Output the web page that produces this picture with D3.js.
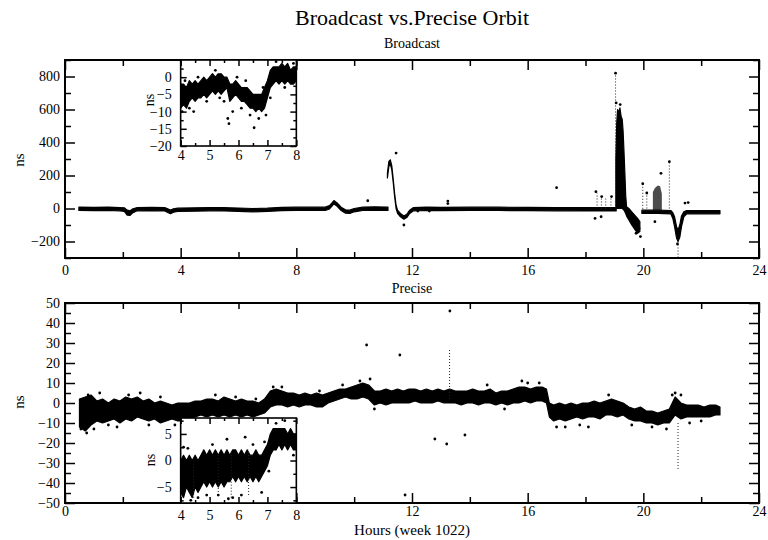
<!DOCTYPE html>
<html lang="en">
<head>
<meta charset="utf-8">
<title>Broadcast vs. Precise Orbit</title>
<script src="https://d3js.org/d3.v7.min.js"></script>
<style>
body{margin:0;background:#fff;}
svg text{font-family:"Liberation Serif","Times New Roman",serif !important;fill:#000;}
.tick line{stroke:#000;stroke-width:1.5px;}
.domain{display:none;}
</style>
</head>
<body>
<div id="main"></div>
<script>

// ---- Broadcast (top) : [hour, low, high] bands
var bcBase1 = [[0.48,-12,8],[1.0,-13,7],[1.5,-12,8],[1.9,-14,6],[2.05,-18,4],[2.15,-40,-10],[2.25,-42,-14],[2.35,-25,-2],[2.5,-14,6],[3.0,-13,7],[3.45,-15,5],[3.55,-24,-2],[3.65,-32,-10],[3.75,-22,-2],[3.9,-18,2],[4.5,-16,4],[5.0,-14,6],[5.5,-15,5],[6.0,-17,3],[6.5,-20,0],[7.0,-18,2],[7.5,-13,7],[8.0,-12,8],[8.5,-12,8],[9.0,-12,8],[9.15,-2,18],[9.3,28,48],[9.42,12,32],[9.55,-12,8],[9.7,-28,-8],[9.85,-30,-10],[10.0,-20,0],[10.3,-12,8],[10.7,-10,10],[11.17,-12,8]]
var bcBase2 = [[11.15,185,215],[11.2,255,285],[11.25,270,295],[11.3,235,260],[11.35,160,180],[11.4,70,90],[11.45,0,20],[11.5,-30,-10],[11.6,-50,-30],[11.72,-65,-45],[11.82,-55,-35],[11.92,-30,-10],[12.05,-14,6],[12.5,-12,8],[13.0,-13,7],[14.0,-12,8],[15.0,-12,8],[16.0,-13,7],[17.0,-14,6],[18.0,-15,5],[19.06,-15,5]]
var bcSpike = [[19.05,0,300],[19.08,0,520],[19.11,0,600],[19.15,0,580],[19.19,0,610],[19.23,0,560],[19.27,0,540],[19.3,-5,470],[19.33,-10,350],[19.36,-20,220],[19.39,-30,80],[19.42,-45,10],[19.5,-70,0],[19.6,-100,-20],[19.7,-125,-40],[19.8,-150,-60],[19.88,-140,-80]]
var bcBase3 = [[19.95,-30,-10],[20.5,-30,-10],[20.95,-32,-12],[21.02,-60,-25],[21.08,-110,-50],[21.15,-180,-110],[21.2,-200,-130],[21.26,-175,-100],[21.32,-110,-45],[21.4,-50,-20],[21.5,-32,-12],[22.65,-32,-12]]
var bcCluster = [[20.33,-10,100],[20.4,-10,125],[20.5,-10,140],[20.58,-10,135],[20.64,-10,90]]
var bcSticks = [[19.04,0,820],[20.9,0,284],[21.2,-200,-300],[19.98,-20,150],[18.4,0,95],[18.55,0,72],[18.7,0,60],[18.88,0,72],[20.12,0,94]]
var bcDots = [[10.47,47],[11.45,336],[11.72,-100],[12.6,-15],[13.24,45],[13.24,30],[12.2,-15],[17.0,126],[18.36,102],[18.56,72],[18.9,72],[18.33,-60],[18.54,-50],[19.04,820],[19.06,640],[19.2,630],[19.9,-170],[19.85,-120],[19.75,-150],[19.98,150],[20.12,94],[20.4,-80],[20.61,213],[20.9,284],[21.44,33],[21.55,36],[21.18,-215]]

// ---- Broadcast inset (hours 4-8)
var bcInBand = [[4.0,-9,-2],[4.1,-8,-2],[4.2,-9,-3],[4.3,-7,-1],[4.4,-6,-2],[4.5,-7,-1],[4.6,-6,-2],[4.7,-6,-1],[4.8,-5,0],[4.9,-6,-1],[5.0,-5,0],[5.1,-4,1],[5.2,-5,0],[5.3,-4,1],[5.4,-5,1],[5.5,-4,0],[5.6,-3,0],[5.7,-7,-2],[5.8,-6,-2],[5.9,-5,-1],[6.0,-6,-2],[6.1,-7,-3],[6.2,-7,-3],[6.3,-8,-3],[6.4,-9,-4],[6.5,-9,-5],[6.6,-10,-5],[6.7,-9,-5],[6.8,-10,-5],[6.9,-9,-3],[7.0,-6,-1],[7.1,-3,2],[7.2,-2,3],[7.3,-1,3],[7.4,-2,3],[7.5,-1,4],[7.6,-2,3],[7.7,-1,4],[7.8,-2,2],[7.9,-2,3],[8.0,-1,3]]
var bcInDots = [[4.05,-10],[4.15,-1],[4.3,-9],[4.45,-10],[4.6,0],[4.9,-7],[5.2,2],[5.35,-6],[5.5,-7],[5.63,-12],[5.67,-13.5],[5.8,-10],[5.95,0],[6.1,-9],[6.25,-1],[6.4,-11],[6.54,-14.7],[6.7,-12],[6.85,-3],[6.95,-11],[7.1,-6],[7.3,4.5],[7.6,-3],[7.9,4]]

// ---- Precise (bottom)
var prBand = [[0.5,-12,2],[0.7,-14,3],[0.9,-11,4],[1.1,-9,1],[1.3,-10,2],[1.5,-9,0],[1.7,-8,2],[1.9,-10,1],[2.1,-8,3],[2.3,-9,2],[2.5,-7,3],[2.7,-8,1],[2.9,-9,2],[3.1,-8,0],[3.3,-10,1],[3.5,-9,0],[3.7,-8,-1],[3.9,-9,0],[4.1,-9,0],[4.3,-8,0],[4.5,-7,1],[4.7,-6,1],[4.9,-7,2],[5.1,-6,2],[5.3,-7,1],[5.5,-6,3],[5.7,-7,2],[5.9,-6,1],[6.1,-7,2],[6.3,-6,1],[6.5,-7,1],[6.7,-6,0],[6.9,-5,2],[7.1,-2,6],[7.3,-1,7],[7.5,-1,6],[7.7,-2,5],[7.9,-1,5],[8.1,-2,4],[8.3,-1,5],[8.5,-1,4],[8.7,-2,5],[8.9,-2,4],[9.1,0,5],[9.3,1,6],[9.5,2,7],[9.7,3,7],[9.9,2,8],[10.1,2,9],[10.3,3,10],[10.5,2,9],[10.7,-1,6],[10.9,0,6],[11.1,-1,7],[11.3,0,6],[11.5,0,7],[11.7,0,6],[11.9,0,7],[12.1,1,7],[12.3,0,6],[12.5,0,7],[12.7,0,6],[12.9,1,7],[13.1,0,6],[13.3,0,7],[13.5,0,6],[13.7,-1,6],[13.9,0,6],[14.1,0,7],[14.3,-1,6],[14.5,0,6],[14.7,0,7],[14.9,-1,5],[15.1,0,6],[15.3,-1,6],[15.5,0,7],[15.7,0,8],[15.9,1,8],[16.1,0,7],[16.3,1,8],[16.5,1,8],[16.65,0,7],[16.75,-7,0],[16.9,-9,-1],[17.1,-8,0],[17.3,-9,-1],[17.5,-8,0],[17.7,-7,-1],[17.9,-8,0],[18.1,-7,0],[18.3,-7,1],[18.5,-8,0],[18.7,-6,1],[18.9,-6,2],[19.1,-7,1],[19.3,-6,0],[19.5,-8,-2],[19.7,-9,-3],[19.9,-9,-2],[20.1,-10,-4],[20.3,-10,-4],[20.5,-11,-5],[20.7,-10,-4],[20.9,-10,-3],[21.0,-8,0],[21.1,-6,3],[21.3,-8,0],[21.5,-7,-1],[21.7,-7,-1],[21.9,-7,-1],[22.1,-7,-2],[22.3,-7,-1],[22.5,-6,-1],[22.65,-6,-2]]
var prDots = [[0.55,-13],[0.75,-15],[0.8,4],[1.0,-13],[1.2,5],[1.5,-11],[1.8,-12],[2.2,4],[2.6,5],[2.9,-11],[3.3,3],[3.8,-11],[4.4,-11],[5.2,4],[5.9,3],[6.6,2],[7.2,8],[7.5,8],[8.8,6],[9.6,9],[10.2,11],[10.43,29],[10.55,12],[10.7,-3],[11.58,24],[11.76,-46],[12.79,-18],[13.2,-20.5],[13.31,46],[13.83,-16],[14.6,9],[15.2,-3],[15.8,11],[16.0,10],[16.4,10],[17.0,-12],[17.3,-12],[17.8,-11],[18.1,-12],[18.8,4],[19.6,-11],[20.3,-12],[20.8,-13],[21.0,4],[21.1,5],[21.3,4],[21.6,-10],[22.0,-9]]
var prSticks = [[13.3,2,27],[21.2,-10,-33]]

// ---- Precise inset (hours 4-8)
var prInBand = [[4.0,-6,0],[4.1,-7,1],[4.2,-5,0],[4.3,-6,1],[4.4,-7,0],[4.5,-5,1],[4.6,-6,0],[4.7,-5,1],[4.8,-4,2],[4.9,-5,1],[5.0,-4,2],[5.1,-5,1],[5.2,-4,2],[5.3,-5,1],[5.4,-4,2],[5.5,-5,1],[5.6,-4,2],[5.7,-4,1],[5.8,-3,2],[5.9,-4,2],[6.0,-3,1],[6.1,-4,2],[6.2,-3,1],[6.3,-4,2],[6.4,-3,1],[6.5,-4,1],[6.6,-3,2],[6.7,-4,1],[6.8,-3,1],[6.9,-2,2],[7.0,-1,3],[7.1,1,5],[7.2,2,6],[7.3,2,6],[7.4,3,6],[7.5,2,6],[7.6,3,6],[7.7,2,5],[7.8,3,6],[7.9,2,5],[8.0,2,5]]
var prInDots = [[4.1,2.5],[4.25,2.3],[4.35,-7.5],[4.6,-7],[4.9,-6.5],[5.1,3],[5.3,-6.5],[5.6,4],[5.65,-7.2],[5.8,-7],[6.1,-6.5],[6.23,4.4],[6.5,3],[6.8,-6],[6.9,3.5],[7.05,-2],[7.3,7],[7.6,7.5],[7.9,1]]
var prInSticks = [[4.45,-7,0],[5.3,-6.5,1],[5.75,-7,2],[6.35,-6.5,2]]

var hourTicks = [0,4,8,12,16,20,24]
var hourMinor = [2,6,10,14,18,22]
var bcTicks = [-200,0,200,400,600,800]
var bcMinor = [-300,-100,100,300,500,700,900]
var prTicks = [-50,-40,-30,-20,-10,0,10,20,30,40,50]
var prMinor = [-45,-35,-25,-15,-5,5,15,25,35,45]
var inHour = [4,5,6,7,8]
var inHourMinor = [4.5,5.5,6.5,7.5]
var bcInTicks = [-20,-15,-10,-5,0]
var bcInMinor = [-17.5,-12.5,-7.5,-2.5,2.5]
var prInTicks = [-5,0,5]
var prInMinor = [-7.5,-2.5,2.5,7.5]

var width = 768, height = 540
var svg = d3.select("#main").append("svg").attr("width",width).attr("height",height)

var L = 65, R = 759
var serif = '"Liberation Serif","Times New Roman",serif'

function axes(g, x, y, o){
  var w = x.range()[1], h = y.range()[0]
  var big = o.big, small = o.small
  g.append("g").attr("transform","translate(0,"+h+")")
    .call(d3.axisBottom(x).tickValues(o.xMinor).tickSize(-small).tickFormat(""))
  g.append("g").call(d3.axisTop(x).tickValues(o.xMinor).tickSize(-small).tickFormat(""))
  g.append("g").call(d3.axisTop(x).tickValues(o.xMajor).tickSize(-big).tickFormat(""))
  g.append("g").attr("transform","translate(0,"+h+")")
    .call(d3.axisBottom(x).tickValues(o.xMajor).tickSize(-big).tickPadding(o.xPad)
      .tickFormat(function(d){return o.xLabels.indexOf(d)>=0 ? d : ""}))
    .selectAll("text").style("font-size",o.font+"px")
  g.append("g").call(d3.axisLeft(y).tickValues(o.yMinor).tickSize(-small).tickFormat(""))
  g.append("g").attr("transform","translate("+w+",0)")
    .call(d3.axisRight(y).tickValues(o.yMinor).tickSize(-small).tickFormat(""))
  g.append("g").attr("transform","translate("+w+",0)")
    .call(d3.axisRight(y).tickValues(o.yMajor).tickSize(-big).tickFormat(""))
  g.append("g").call(d3.axisLeft(y).tickValues(o.yMajor).tickSize(-big).tickPadding(o.yPad))
    .selectAll("text").style("font-size",o.font+"px")
  g.append("rect").attr("width",w).attr("height",h)
    .attr("fill","none").attr("stroke","#000").attr("stroke-width",o.frame)
}

function marks(g, x, y, bands, dots, sticks, clipId){
  var w = x.range()[1], h = y.range()[0]
  g.append("clipPath").attr("id",clipId).append("rect").attr("width",w).attr("height",h)
  var d = g.append("g").attr("clip-path","url(#"+clipId+")")
  var area = d3.area().x(function(p){return x(p[0])}).y0(function(p){return y(p[1])}).y1(function(p){return y(p[2])})
  d.selectAll("path.band").data(bands).enter().append("path").attr("class","band")
    .attr("d",area).attr("fill","#000").attr("stroke","#000").attr("stroke-width",1.2).attr("stroke-linejoin","round")
  d.selectAll("line.stick").data(sticks).enter().append("line").attr("class","stick")
    .attr("x1",function(p){return x(p[0])}).attr("x2",function(p){return x(p[0])})
    .attr("y1",function(p){return y(p[1])}).attr("y2",function(p){return y(p[2])})
    .attr("stroke","#222").attr("stroke-width",1).attr("stroke-dasharray","1,2")
  d.selectAll("circle").data(dots).enter().append("circle")
    .attr("cx",function(p){return x(p[0])}).attr("cy",function(p){return y(p[1])})
    .attr("r",1.4).attr("fill","#000")
  return d
}

// ---------- top panel
var gT = svg.append("g").attr("transform","translate("+L+",60)")
var xT = d3.scaleLinear().domain([0,24]).range([0,R-L])
var yT = d3.scaleLinear().domain([-300,900]).range([198,0])
var dT = marks(gT, xT, yT, [bcBase1,bcBase2,bcSpike,bcBase3], bcDots, bcSticks, "clipT")
dT.append("path").datum(bcCluster)
  .attr("d",d3.area().x(function(p){return xT(p[0])}).y0(function(p){return yT(p[1])}).y1(function(p){return yT(p[2])}))
  .attr("fill","#000").attr("fill-opacity",0.7)
axes(gT, xT, yT, {xMajor:hourTicks, xMinor:hourMinor, xLabels:hourTicks, yMajor:bcTicks, yMinor:bcMinor,
  big:10, small:6, xPad:7, yPad:5, font:14, frame:2})

// top inset
var giT = svg.append("g").attr("transform","translate("+(L+xT(4))+",60)")
var xiT = d3.scaleLinear().domain([4,8]).range([0,xT(8)-xT(4)])
var yiT = d3.scaleLinear().domain([-20,5]).range([86,0])
giT.append("rect").attr("width",xiT.range()[1]).attr("height",86).attr("fill","#fff")
marks(giT, xiT, yiT, [bcInBand], bcInDots, [], "clipIT")
axes(giT, xiT, yiT, {xMajor:inHour, xMinor:inHourMinor, xLabels:inHour, yMajor:bcInTicks, yMinor:bcInMinor,
  big:6, small:3, xPad:4, yPad:9, font:14, frame:1.6})
giT.append("text").attr("transform","translate(-27,40) rotate(-90)").attr("text-anchor","middle")
  .style("font-size","14px").text("ns")

// ---------- bottom panel
var gB = svg.append("g").attr("transform","translate("+L+",303)")
var xB = d3.scaleLinear().domain([0,24]).range([0,R-L])
var yB = d3.scaleLinear().domain([-50,50]).range([200,0])
marks(gB, xB, yB, [prBand], prDots, prSticks, "clipB")
axes(gB, xB, yB, {xMajor:hourTicks, xMinor:hourMinor, xLabels:[0,12,16,20,24], yMajor:prTicks, yMinor:prMinor,
  big:10, small:6, xPad:3, yPad:5, font:14, frame:2})

// bottom inset
var giB = svg.append("g").attr("transform","translate("+(L+xB(4))+",418)")
var xiB = d3.scaleLinear().domain([4,8]).range([0,xB(8)-xB(4)])
var yiB = d3.scaleLinear().domain([-8,8]).range([85,0])
giB.append("rect").attr("width",xiB.range()[1]).attr("height",85).attr("fill","#fff")
marks(giB, xiB, yiB, [prInBand], prInDots, prInSticks, "clipIB")
axes(giB, xiB, yiB, {xMajor:inHour, xMinor:inHourMinor, xLabels:inHour, yMajor:prInTicks, yMinor:prInMinor,
  big:6, small:3, xPad:7, yPad:9, font:14, frame:1.6})
giB.append("text").attr("transform","translate(-26,42) rotate(-90)").attr("text-anchor","middle")
  .style("font-size","14px").text("ns")

// ---------- titles
var cx = (L+R)/2
svg.append("text").attr("x",cx).attr("y",25).attr("text-anchor","middle").style("font-size","22px").text("Broadcast vs.Precise Orbit")
svg.append("text").attr("x",cx).attr("y",48).attr("text-anchor","middle").style("font-size","14px").text("Broadcast")
svg.append("text").attr("x",cx).attr("y",293).attr("text-anchor","middle").style("font-size","14px").text("Precise")
svg.append("text").attr("x",cx).attr("y",535).attr("text-anchor","middle").style("font-size","15px").text("Hours (week 1022)")
svg.append("text").attr("transform","translate(24,160) rotate(-90)").attr("text-anchor","middle").style("font-size","15px").text("ns")
svg.append("text").attr("transform","translate(24,402) rotate(-90)").attr("text-anchor","middle").style("font-size","15px").text("ns")

svg.selectAll("text").style("font-family",serif).attr("font-family",serif)

</script>
</body>
</html>
